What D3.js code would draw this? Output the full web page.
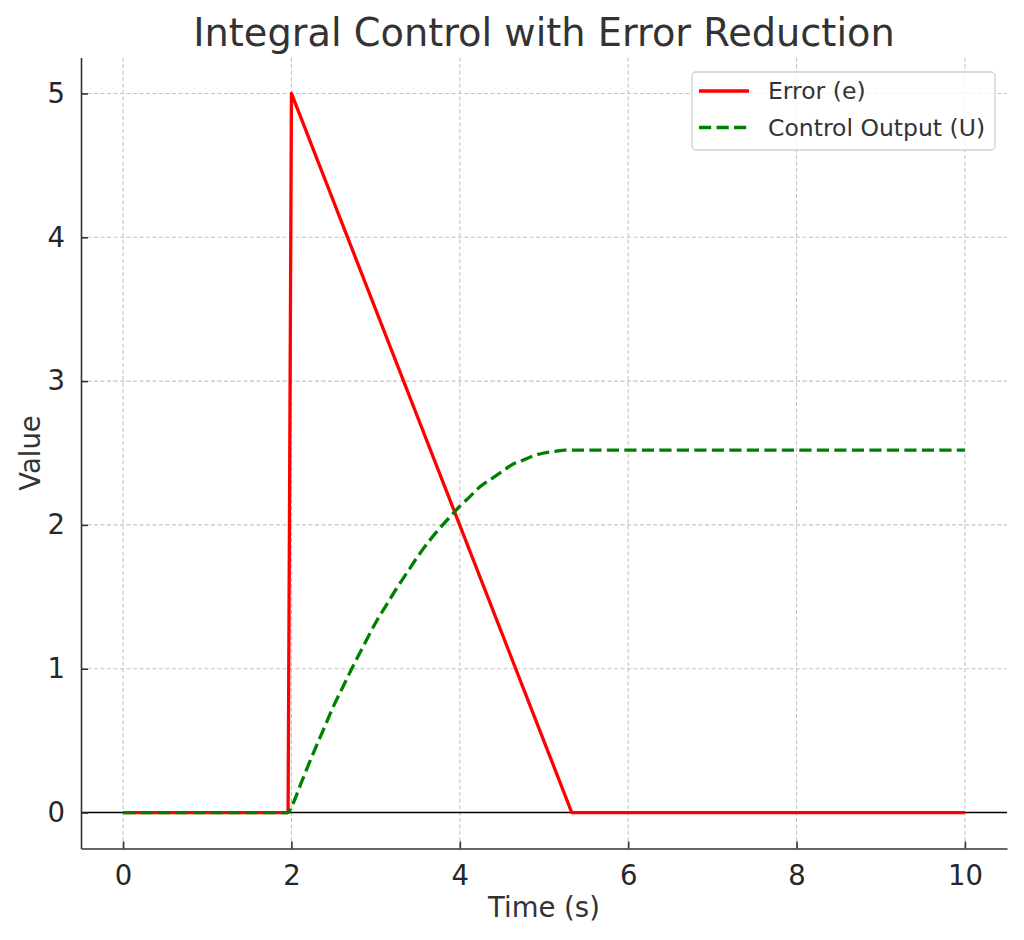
<!DOCTYPE html>
<html>
<head>
<meta charset="utf-8">
<script src="https://cdn.jsdelivr.net/npm/d3@7"></script>
<style>
  body { margin: 0; background: #fff; }
  text { font-family: "DejaVu Sans", sans-serif; }
</style>
</head>
<body>
<div id="chart"></div>
<script>
// values
const errorTime = [0, 1.96, 2.0, 5.33, 10];
const errorValue = [0, 0, 5.0, 0, 0];

const controlTime = [0, 1.96, 2.0, 2.125, 2.25, 2.375, 2.5, 2.625, 2.75, 2.875, 3.0, 3.125, 3.25, 3.375, 3.5, 3.625, 3.75, 3.875, 4.0, 4.125, 4.25, 4.375, 4.5, 4.625, 4.75, 4.875, 5.0, 5.125, 5.25, 5.33, 10];
const controlValue = [0, 0, 0.04, 0.22, 0.40, 0.57, 0.74, 0.89, 1.04, 1.18, 1.32, 1.44, 1.56, 1.67, 1.78, 1.88, 1.97, 2.05, 2.13, 2.20, 2.27, 2.32, 2.37, 2.42, 2.45, 2.48, 2.50, 2.51, 2.52, 2.52, 2.52];

const xTicks = [0, 2, 4, 6, 8, 10];
const yTicks = [0, 1, 2, 3, 4, 5];

const width = 1024;
const height = 940;
const margin = { top: 57.5, right: 17, bottom: 91.5, left: 81 };

const svg = d3.select("#chart").append("svg")
    .attr("width", width)
    .attr("height", height);

const x = d3.scaleLinear()
  .domain([-0.5, 10.5])
  .range([margin.left, width - margin.right]);

const y = d3.scaleLinear()
  .domain([-0.25, 5.25])
  .range([height - margin.bottom, margin.top]);

svg.append("defs").append("clipPath")
    .attr("id", "plot-area")
  .append("rect")
    .attr("x", margin.left)
    .attr("y", margin.top)
    .attr("width", width - margin.left - margin.right)
    .attr("height", height - margin.top - margin.bottom);

// dashed grid
const grid = svg.append("g")
    .attr("stroke", "#c4c4c4")
    .attr("stroke-width", 1.1)
    .attr("stroke-dasharray", "4,2.5");

grid.selectAll(".gx")
  .data(xTicks)
  .enter().append("line")
    .attr("x1", d => x(d)).attr("x2", d => x(d))
    .attr("y1", margin.top).attr("y2", height - margin.bottom);

grid.selectAll(".gy")
  .data(yTicks)
  .enter().append("line")
    .attr("x1", margin.left).attr("x2", width - margin.right)
    .attr("y1", d => y(d)).attr("y2", d => y(d));

// zero line
svg.append("line")
    .attr("x1", margin.left).attr("x2", width - margin.right)
    .attr("y1", y(0)).attr("y2", y(0))
    .attr("stroke", "#000")
    .attr("stroke-width", 1.5);

// axes, ticks pointing inward
const xAxis = svg.append("g")
    .attr("transform", `translate(0,${height - margin.bottom})`)
    .call(d3.axisBottom(x).tickValues(xTicks).tickFormat(d3.format("d")).tickSize(-7).tickPadding(17).tickSizeOuter(0));

const yAxis = svg.append("g")
    .attr("transform", `translate(${margin.left},0)`)
    .call(d3.axisLeft(y).tickValues(yTicks).tickFormat(d3.format("d")).tickSize(-7).tickPadding(16).tickSizeOuter(0));

[xAxis, yAxis].forEach(g => {
  g.select(".domain").attr("stroke", "#333").attr("stroke-width", 1.6);
  g.selectAll(".tick line").attr("stroke", "#333").attr("stroke-width", 1.6);
  g.selectAll(".tick text")
    .attr("fill", "#262626")
    .style("font-size", "27.5px")
    .style("font-family", "DejaVu Sans");
});

const line = d3.line()
  .x(d => x(d[0]))
  .y(d => y(d[1]));

const plot = svg.append("g").attr("clip-path", "url(#plot-area)");

plot.append("path")
    .datum(d3.zip(errorTime, errorValue))
    .attr("d", line)
    .attr("fill", "none")
    .attr("stroke", "#ff0000")
    .attr("stroke-width", 3.3)
    .attr("stroke-linejoin", "round");

plot.append("path")
    .datum(d3.zip(controlTime, controlValue))
    .attr("d", line.curve(d3.curveMonotoneX))
    .attr("fill", "none")
    .attr("stroke", "#008000")
    .attr("stroke-width", 3.3)
    .attr("stroke-dasharray", "12.2,5.3");

// title and axis labels
svg.append("text")
    .attr("x", (margin.left + width - margin.right) / 2)
    .attr("y", 46)
    .attr("text-anchor", "middle")
    .attr("fill", "#333")
    .style("font-size", "38.3px")
    .text("Integral Control with Error Reduction");

svg.append("text")
    .attr("x", (margin.left + width - margin.right) / 2)
    .attr("y", 917)
    .attr("text-anchor", "middle")
    .attr("fill", "#333")
    .style("font-size", "27.5px")
    .text("Time (s)");

svg.append("text")
    .attr("transform", `translate(40,${(margin.top + height - margin.bottom) / 2}) rotate(-90)`)
    .attr("text-anchor", "middle")
    .attr("fill", "#333")
    .style("font-size", "27.5px")
    .text("Value");

// legend
const legend = svg.append("g");

legend.append("rect")
    .attr("x", 692).attr("y", 72)
    .attr("width", 303).attr("height", 78)
    .attr("rx", 4)
    .attr("fill", "rgba(255,255,255,0.8)")
    .attr("stroke", "#d0d0d0")
    .attr("stroke-width", 1.3);

const items = [
  { label: "Error (e)", color: "#ff0000", dash: null },
  { label: "Control Output (U)", color: "#008000", dash: "12.2,5.3" }
];

items.forEach((it, i) => {
  const cy = 91 + i * 36.5;
  legend.append("line")
      .attr("x1", 699).attr("x2", 749)
      .attr("y1", cy).attr("y2", cy)
      .attr("stroke", it.color)
      .attr("stroke-width", 3.3)
      .attr("stroke-dasharray", it.dash);
  legend.append("text")
      .attr("x", 768)
      .attr("y", cy)
      .attr("dy", "0.36em")
      .attr("fill", "#333")
      .style("font-size", "23.5px")
      .text(it.label);
});
</script>
</body>
</html>
